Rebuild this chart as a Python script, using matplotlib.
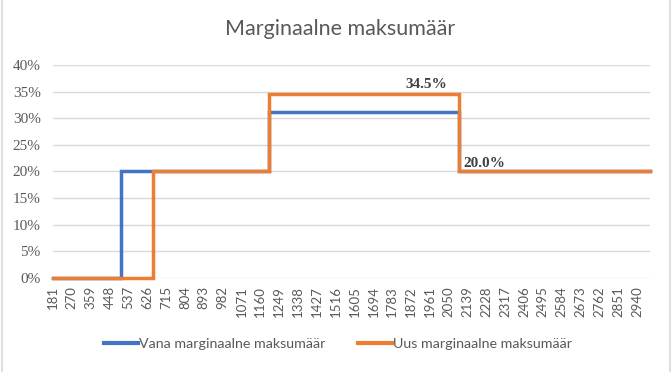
import numpy as np
import matplotlib
matplotlib.use('Agg')
import matplotlib.pyplot as plt
from matplotlib.lines import Line2D

# breakpoints (income, marginal rate %)
vana_x = [181, 500, 1200, 2100, 3000]
vana_y = [0, 20, 31.1, 20, 20]
uus_x = [181, 654, 1200, 2100, 3000]
uus_y = [0, 20, 34.5, 20, 20]

tick_vals = [181, 270, 359, 448, 537, 626, 715, 804, 893, 982, 1071, 1160,
             1249, 1338, 1427, 1516, 1605, 1694, 1783, 1872, 1961, 2050,
             2139, 2228, 2317, 2406, 2495, 2584, 2673, 2762, 2851, 2940]
y_ticks = [0, 5, 10, 15, 20, 25, 30, 35, 40]

blue = '#4472C4'
orange = '#ED7D31'
txt = '#595959'
grid = '#D9D9D9'

fig = plt.figure(figsize=(6.72, 3.72), dpi=100)
ax = fig.add_axes([0.079, 0.2535, 0.888, 0.5718])

ax.step(vana_x, vana_y, where='post', color=blue, lw=2.5, label='Vana marginaalne maksumäär',
        solid_joinstyle='miter', zorder=3, clip_on=False)
ax.step(uus_x, uus_y, where='post', color=orange, lw=2.5, label='Uus marginaalne maksumäär',
        solid_joinstyle='miter', zorder=4, clip_on=False)

# data labels
ax.annotate('34.5%', (1944, 34.5), xytext=(0, 2), textcoords='offset points', ha='center', va='bottom',
            fontsize=11, fontweight='bold', family='Liberation Serif', color='#404040')
ax.annotate('20.0%', (2118, 20), xytext=(0, 1), textcoords='offset points', ha='left', va='bottom',
            fontsize=11, fontweight='bold', family='Liberation Serif', color='#404040')

ax.set_xlim(181, 3000)
ax.set_ylim(0, 40)
ax.set_xticks(tick_vals)
ax.set_xticklabels([str(v) for v in tick_vals], rotation=90, fontsize=9.5,
                   family=['Liberation Sans Narrow', 'Lato'], color=txt)
ax.set_yticks(y_ticks)
ax.set_yticklabels([f'{v}%' for v in y_ticks], fontsize=11, family='Liberation Serif', color=txt)
ax.tick_params(axis='both', length=0)
ax.tick_params(axis='y', pad=9)
ax.tick_params(axis='x', pad=6)
ax.grid(axis='y', color=grid, lw=1)
ax.set_axisbelow(True)
for s in ax.spines.values():
    s.set_visible(False)

fig.text(0.506, 0.922, 'Marginaalne maksumäär', ha='center', va='center', fontsize=15.5,
         family='Lato', color=txt)

leg = fig.legend(loc='center', bbox_to_anchor=(0.503, 0.075), ncol=2, frameon=False,
                 prop={'family': 'Lato', 'size': 10.3}, handlelength=2.4, handletextpad=0.05,
                 columnspacing=2.3)
for t in leg.get_texts():
    t.set_color(txt)
for h in leg.get_lines():
    h.set_linewidth(3)

# chart area border
fig.add_artist(Line2D([0.003, 0.003], [0, 1], color=grid, lw=1.2, transform=fig.transFigure))
fig.add_artist(Line2D([0.997, 0.997], [0, 1], color=grid, lw=1.2, transform=fig.transFigure))

fig.savefig('out.png', dpi=100)
